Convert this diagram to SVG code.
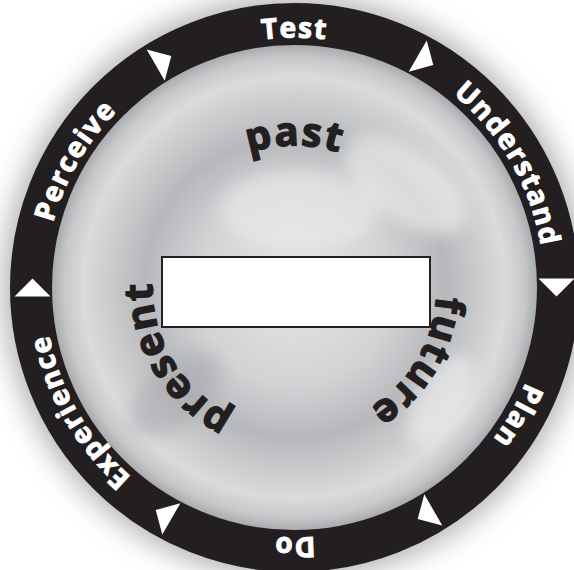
<svg xmlns="http://www.w3.org/2000/svg" xmlns:xlink="http://www.w3.org/1999/xlink" width="574" height="570" viewBox="0 0 574 570">
  <style>
    .ringtxt { font-family: "Open Sans", "Liberation Sans", sans-serif; font-weight: 700; font-size: 28px; fill: #ffffff; stroke: #ffffff; stroke-width: 1; letter-spacing: 1.5px; }
    .innertxt { font-family: "Open Sans", "Liberation Sans", sans-serif; font-weight: 700; font-size: 40px; fill: #231f20; stroke: #231f20; stroke-width: 1.4; letter-spacing: 1.5px; }
    .arrow { fill: #ffffff; }
  </style>
  <defs>
    <filter id="blur20" x="-30%" y="-30%" width="160%" height="160%">
      <feGaussianBlur stdDeviation="14"/>
    </filter>
    <filter id="blur8" x="-50%" y="-50%" width="200%" height="200%">
      <feGaussianBlur stdDeviation="8"/>
    </filter>
    <radialGradient id="disc" cx="294.5" cy="287.5" r="243" gradientUnits="userSpaceOnUse">
      <stop offset="0" stop-color="#e4e5e6"/>
      <stop offset="0.4" stop-color="#d2d3d5"/>
      <stop offset="0.62" stop-color="#b7b8bb"/>
      <stop offset="0.75" stop-color="#c9cacc"/>
      <stop offset="0.87" stop-color="#dadbdd"/>
      <stop offset="0.95" stop-color="#c6c7c9"/>
      <stop offset="1" stop-color="#a9aaad"/>
    </radialGradient>
    <path id="outerPath" d="M 44.5 287.5 A 250 250 0 1 1 544.5 287.5 A 250 250 0 1 1 44.5 287.5"/>
    <path id="innerPath" d="M 294.5 429.5 A 142 142 0 1 1 294.5 145.5 A 142 142 0 1 1 294.5 429.5"/>
    <polygon id="arw" points="-9,-244 -9,-280 9,-262"/>
  </defs>

  <rect width="574" height="570" fill="#ffffff"/>
  <!-- soft shadow around the ring -->
  <circle cx="294.5" cy="287.5" r="292" fill="#9a9b9e" filter="url(#blur20)" opacity="0.75"/>

  <!-- metallic disc -->
  <g id="disc-face">
    <circle cx="294.5" cy="287.5" r="243" fill="url(#disc)"/>
    <ellipse cx="405" cy="185" rx="70" ry="35" fill="#f2f2f3" opacity="0.6" filter="url(#blur8)" transform="rotate(35 405 185)"/>
    <ellipse cx="300" cy="210" rx="80" ry="40" fill="#f0f0f1" opacity="0.5" filter="url(#blur8)"/>
    <ellipse cx="175" cy="395" rx="55" ry="30" fill="#a3a4a7" opacity="0.45" filter="url(#blur8)" transform="rotate(-40 175 395)"/>
    <ellipse cx="440" cy="400" rx="50" ry="25" fill="#f4f4f5" opacity="0.55" filter="url(#blur8)" transform="rotate(-60 440 400)"/>
  </g>

  <!-- black ring -->
  <g id="ring">
    <circle cx="294.5" cy="287.5" r="263.5" fill="none" stroke="#231f20" stroke-width="42"/>
  </g>

  <!-- ring labels -->
  <g id="node-perceive"><text class="ringtxt" text-anchor="middle"><textPath xlink:href="#outerPath" href="#outerPath" startOffset="8.333%">Perceive</textPath></text></g>
  <g id="node-test"><text class="ringtxt" text-anchor="middle"><textPath xlink:href="#outerPath" href="#outerPath" startOffset="25%">Test</textPath></text></g>
  <g id="node-understand"><text class="ringtxt" text-anchor="middle"><textPath xlink:href="#outerPath" href="#outerPath" startOffset="41.667%">Understand</textPath></text></g>
  <g id="node-plan"><text class="ringtxt" text-anchor="middle"><textPath xlink:href="#outerPath" href="#outerPath" startOffset="58.333%">Plan</textPath></text></g>
  <g id="node-do"><text class="ringtxt" text-anchor="middle"><textPath xlink:href="#outerPath" href="#outerPath" startOffset="75%">Do</textPath></text></g>
  <g id="node-experience"><text class="ringtxt" text-anchor="middle"><textPath xlink:href="#outerPath" href="#outerPath" startOffset="91.667%">Experience</textPath></text></g>

  <!-- connectors: arrowheads on the ring -->
  <g id="connectors" class="arrow">
    <use href="#arw" xlink:href="#arw" transform="translate(294.5 287.5) rotate(30)"/>
    <use href="#arw" xlink:href="#arw" transform="translate(294.5 287.5) rotate(90)"/>
    <use href="#arw" xlink:href="#arw" transform="translate(294.5 287.5) rotate(150)"/>
    <use href="#arw" xlink:href="#arw" transform="translate(294.5 287.5) rotate(210)"/>
    <use href="#arw" xlink:href="#arw" transform="translate(294.5 287.5) rotate(270)"/>
    <use href="#arw" xlink:href="#arw" transform="translate(294.5 287.5) rotate(330)"/>
  </g>

  <!-- inner labels -->
  <g id="node-past"><text class="innertxt" text-anchor="middle"><textPath xlink:href="#innerPath" href="#innerPath" startOffset="50%">past</textPath></text></g>
  <g id="node-future"><text class="innertxt" text-anchor="middle"><textPath xlink:href="#innerPath" href="#innerPath" startOffset="83.6%">future</textPath></text></g>
  <g id="node-present"><text class="innertxt" text-anchor="middle"><textPath xlink:href="#innerPath" href="#innerPath" startOffset="16.4%">present</textPath></text></g>

  <!-- center box -->
  <g id="node-box">
    <rect x="162" y="257" width="268" height="70" fill="#ffffff" stroke="#231f20" stroke-width="2"/>
  </g>
</svg>
